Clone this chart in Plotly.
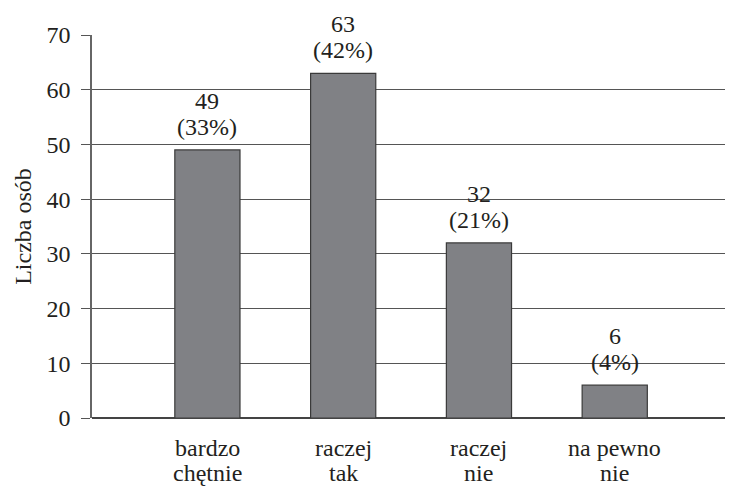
import plotly.graph_objects as go

categories = ["bardzo<br>chętnie", "raczej<br>tak", "raczej<br>nie", "na pewno<br>nie"]
counts = [49, 63, 32, 6]
percents = [33, 42, 21, 4]
y_ticks = [0, 10, 20, 30, 40, 50, 60, 70]

FONT = "Liberation Serif"
TXT = "#231f20"
xs = list(range(len(categories)))

fig = go.Figure(go.Bar(
    x=xs,
    y=counts,
    width=0.48,
    marker=dict(color="#808185", line=dict(color="#3a3a3a", width=1.2)),
    hoverinfo="skip",
))

for x, c, p in zip(xs, counts, percents):
    fig.add_annotation(x=x, y=c, text=str(c), showarrow=False,
                       yanchor="middle", yshift=49,
                       font=dict(family=FONT, size=24, color=TXT))
    fig.add_annotation(x=x, y=c, text=f"({p}%)", showarrow=False,
                       yanchor="middle", yshift=23,
                       font=dict(family=FONT, size=24, color=TXT))

# category labels (two lines each) placed under the axis
for x, cat in zip(xs, categories):
    lines = cat.split("<br>")
    for i, line in enumerate(lines):
        fig.add_annotation(x=x, xref="x", y=0, yref="paper", text=line,
                           showarrow=False, yanchor="middle",
                           yshift=-30 - 25 * i,
                           font=dict(family=FONT, size=24, color=TXT))

fig.update_layout(
    width=733, height=489,
    margin=dict(l=84, r=0, t=27, b=79),
    paper_bgcolor="white", plot_bgcolor="white",
    font=dict(family=FONT, size=24, color=TXT),
    showlegend=False,
    xaxis=dict(
        range=[-0.85, 3.93],
        tickmode="array",
        tickvals=xs,
        ticktext=[""] * len(xs),
        showgrid=False, zeroline=False, showline=False,
        ticks="",
    ),
    yaxis=dict(
        range=[0, 70],
        tickmode="array", tickvals=y_ticks,
        showgrid=True, gridcolor="#555555", gridwidth=1.3,
        zeroline=True, zerolinecolor="#444444", zerolinewidth=1.5,
        showline=True, linecolor="#666666", linewidth=1.5,
        ticks="outside", ticklen=9, tickcolor="#555555", tickwidth=1.3,
        ticklabelstandoff=6,
        title=dict(text="Liczba osób", font=dict(size=24), standoff=8),
        tickfont=dict(size=24),
    ),
)

fig.write_html("out.html")
